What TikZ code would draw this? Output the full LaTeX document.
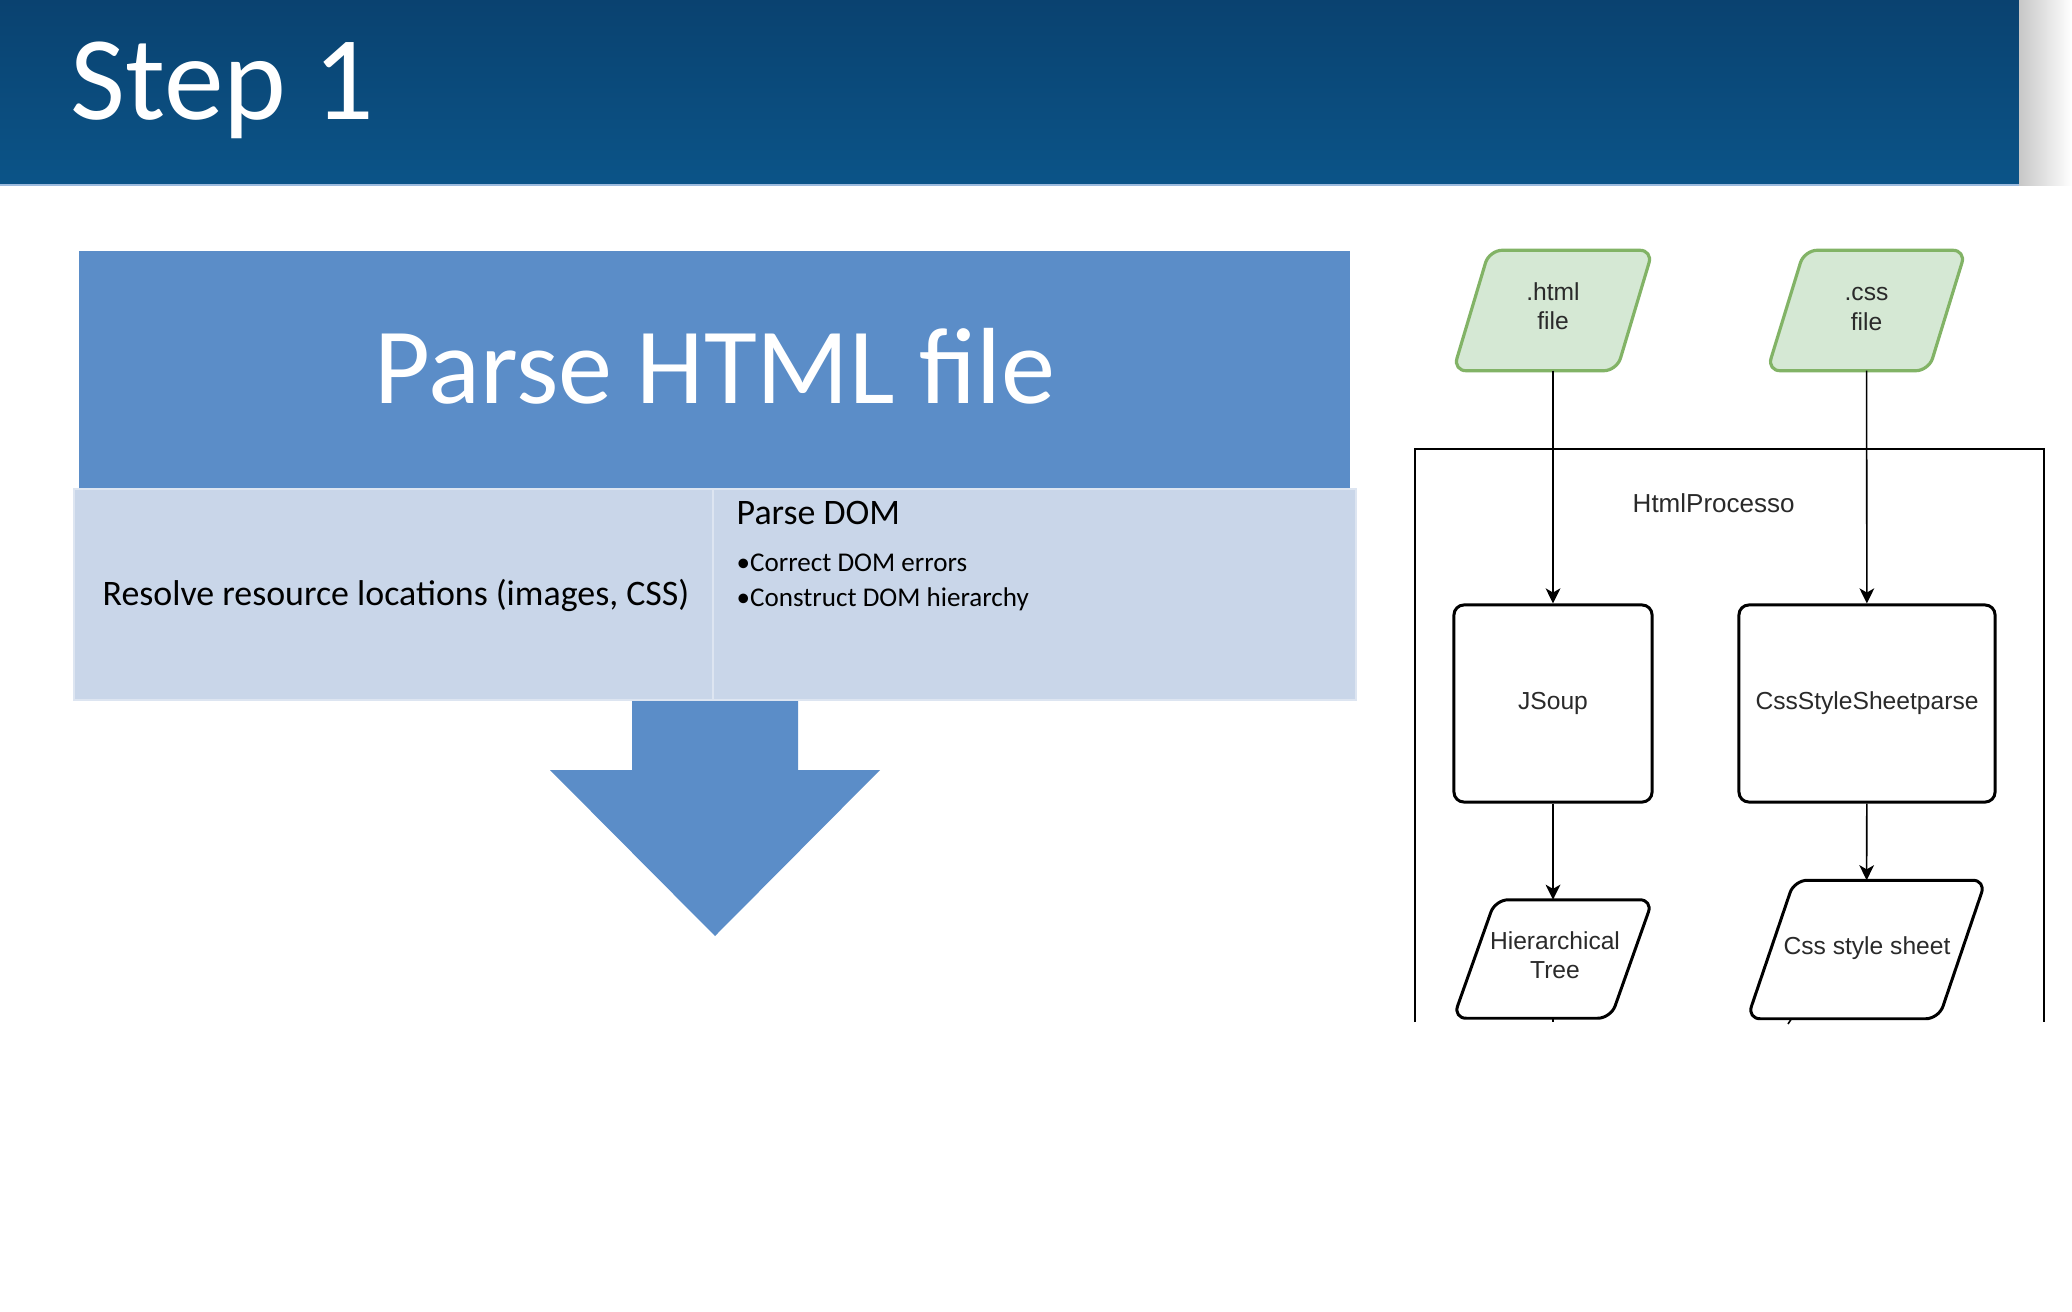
\documentclass[tikz,border=0pt]{standalone}
\usepackage{fontspec}
\setmainfont{Carlito}
\newfontfamily\diagfont{Liberation Sans}
\usetikzlibrary{arrows.meta}

\definecolor{headblueTop}{HTML}{0A4270}
\definecolor{headblueBot}{HTML}{0B5488}
\definecolor{slideblue}{HTML}{5B8DC8}
\definecolor{paleblue}{HTML}{C9D6E9}
\definecolor{paleedge}{HTML}{DDE5F1}
\definecolor{greenfill}{HTML}{D5E8D4}
\definecolor{greenline}{HTML}{82B366}
\definecolor{diagtext}{HTML}{2A2A2A}

% slanted data frame around an (empty) named node: name, slant, style
\newcommand\dataframe[3]{%
  \path[#3] (#1.south west) -- ([xshift=#2]#1.north west) -- (#1.north east)
    -- ([xshift=-#2]#1.south east) -- cycle;}

\tikzset{
  diag/.style={font=\diagfont\fontsize{7}{8.3}\selectfont, text=diagtext, align=center, inner sep=0pt},
  slot/.style={rectangle, inner sep=0pt, minimum width=#1},
  srcframe/.style={draw=greenline, fill=greenfill, line width=0.9pt, rounded corners=1.3mm},
  outframe/.style={draw=black, fill=white, line width=0.85pt, rounded corners=1.3mm},
  procbox/.style={diag, rectangle, draw, rounded corners=1mm, line width=0.85pt,
    minimum height=1.97cm},
  flow/.style={-{Stealth[length=4.3pt,width=4.2pt,inset=1.2pt]}, line width=0.45pt},
  cell/.style={fill=paleblue, draw=paleedge, line width=0.7pt, minimum height=2.11cm, inner sep=0pt},
  celltext/.style={inner sep=0pt, anchor=base west, text=black},
}

\begin{document}
\begin{tikzpicture}[x=0.01cm, y=-0.01cm]
\useasboundingbox (0,0) rectangle (2072,1312);
\fill[white] (0,0) rectangle (2072,1312);

% header band
\shade[top color=headblueTop, bottom color=headblueBot] (0,0) rectangle (2019,185);
\shade[left color=black!22, right color=white] (2019,0) rectangle (2072,185);
\draw[line width=0.6pt, color=slideblue!60] (0,185) -- (2019,185);
\node[anchor=base west, inner sep=0pt, text=white, font=\fontsize{34}{40}\selectfont] (steptitle) at (70,119) {Step 1};

% downward arrow
\fill[slideblue] (632,690) -- (798,690) -- (798,770) -- (880,770) -- (715,936)
  -- (550,770) -- (632,770) -- cycle;

% title block
\node[fill=slideblue, minimum width=12.71cm, minimum height=2.38cm, inner sep=0pt] (parsebox) at (714.5,370) {};
\node[anchor=base, inner sep=0pt, text=white, font=\fontsize{30.8}{36}\selectfont] (parsetitle) at (715,403) {Parse HTML file};

% detail cells
\node[cell, minimum width=6.39cm] (leftcell) at (393.5,594.5) {};
\node[cell, minimum width=6.43cm] (rightcell) at (1034.5,594.5) {};
\node[celltext, font=\fontsize{10.2}{12}\selectfont] (resolve) at (102,605) {Resolve resource locations (images, CSS)};
\node[celltext, font=\fontsize{10.2}{12}\selectfont] (parsedom) at (736,524) {Parse DOM};
\node[celltext, font=\fontsize{7.7}{9}\selectfont] (bulletone) at (736,571) {•Correct DOM errors};
\node[celltext, font=\fontsize{7.7}{9}\selectfont] (bullettwo) at (736,606) {•Construct DOM hierarchy};

% processing flow
\draw[line width=0.5pt] (1415,1022) -- (1415,449) -- (2044,449) -- (2044,1022);
\begin{scope}
\clip (1600,470) rectangle (1795,540);
\node[diag, anchor=west, font=\diagfont\fontsize{7.4}{8.6}\selectfont] (proclabel) at (1632,503) {HtmlProcessor};
\end{scope}

% input files
\node[slot=1.98cm, minimum height=1.19cm] (htmlin) at (1553,310.5) {};
\dataframe{htmlin}{0.36cm}{srcframe}
\node[diag] (htmltext) at (1553,306) {.html\\file};
\node[slot=1.97cm, minimum height=1.19cm] (cssin) at (1866.5,310.5) {};
\dataframe{cssin}{0.37cm}{srcframe}
\node[diag] (csstext) at (1866.5,309) {.css\\file};

% parsers
\node[procbox, minimum width=1.98cm] (jsoup) at (1553,703.5) {JSoup};
\node[procbox, minimum width=2.56cm] (cssparser) at (1867,703.5) {CssStyleSheetparse};

% outputs
\node[slot=1.98cm, minimum height=1.17cm] (tree) at (1553,959) {};
\dataframe{tree}{0.42cm}{outframe}
\node[diag] (treetext) at (1555,955) {Hierarchical\\Tree};
\node[slot=2.37cm, minimum height=1.37cm] (sheet) at (1866.5,949.5) {};
\dataframe{sheet}{0.47cm}{outframe}
\node[diag] (sheettext) at (1867,948.5) {Css style sheet};

\draw[flow] (htmlin) -- (jsoup);
\draw[flow] (cssin) -- (cssparser);
\draw[flow] (jsoup) -- (tree);
\draw[flow] (cssparser) -- (sheet);

% connectors leaving the lower edge
\coordinate (treeexit) at (1553,1022);
\coordinate (sheetexit) at (1788,1024);
\draw[line width=0.45pt] (tree.south) -- (treeexit);
\draw[line width=0.45pt] ([xshift=-0.75cm]sheet.south) -- (sheetexit);
\end{tikzpicture}
\end{document}
